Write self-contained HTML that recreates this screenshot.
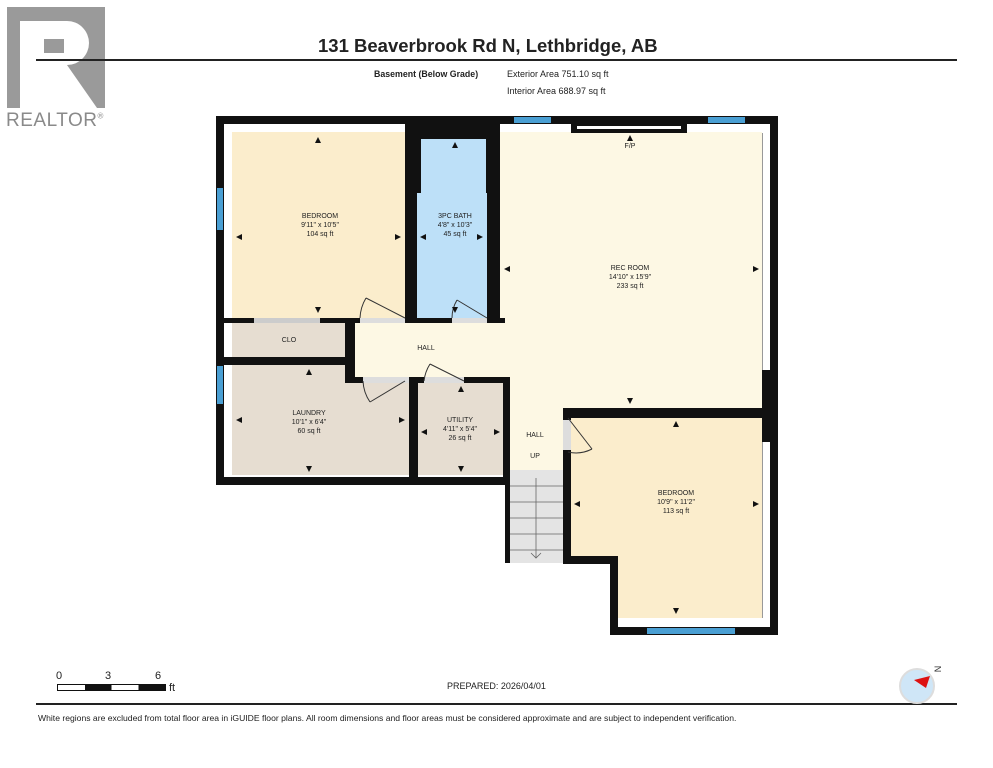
<!DOCTYPE html>
<html><head><meta charset="utf-8"><style>
body{margin:0;width:993px;height:768px;background:#fff;position:relative;overflow:hidden;font-family:"Liberation Sans",Arial,sans-serif;}
.a{position:absolute;}
.w{position:absolute;background:#111;}
.t{position:absolute;font-size:7px;color:#222;text-align:center;line-height:9px;transform:translateX(-50%);white-space:nowrap;}
.win{position:absolute;background:#4a9fd3;}
</style></head><body>
<!-- logo -->
<svg class="a" style="left:7px;top:7px" width="98" height="101">
<rect width="98" height="101" fill="#9a9a9a"/>
<path d="M13,14 H60 A22,22 0 0 1 60,58 H37 V101 H13 Z" fill="#fff"/>
<rect x="37" y="32" width="20" height="14" fill="#9a9a9a"/>
<polygon points="37,58 60,58 90,101 37,101" fill="#fff"/>
</svg>
<div class="a" style="left:6px;top:110px;font-size:19px;color:#8a8a8a;letter-spacing:0.5px;">REALTOR<sup style="font-size:8px">®</sup></div>
<!-- header -->
<div class="a" style="left:318px;top:35px;font-size:18.5px;font-weight:bold;color:#222;">131 Beaverbrook Rd N, Lethbridge, AB</div>
<div class="a" style="left:36px;top:59px;width:921px;height:2px;background:#222;"></div>
<div class="a" style="left:374px;top:69px;font-size:8.8px;font-weight:bold;color:#222;">Basement (Below Grade)</div>
<div class="a" style="left:507px;top:69px;font-size:9px;color:#222;">Exterior Area 751.10 sq ft</div>
<div class="a" style="left:507px;top:86px;font-size:9px;color:#222;">Interior Area 688.97 sq ft</div>

<!-- floors -->
<div class="a" style="left:224px;top:124px;width:546px;height:353px;background:#fff;"></div>
<div class="a" style="left:232px;top:132px;width:173px;height:186px;background:#fbedcc;"></div>
<div class="a" style="left:417px;top:193px;width:70px;height:125px;background:#bde0f8;"></div>
<div class="a" style="left:421px;top:139px;width:65px;height:60px;background:#bde0f8;"></div>
<div class="a" style="left:500px;top:132px;width:262px;height:276px;background:#fdf8e4;"></div>
<div class="a" style="left:232px;top:323px;width:113px;height:34px;background:#e6ddd1;"></div>
<div class="a" style="left:232px;top:365px;width:177px;height:110px;background:#e6ddd1;"></div>
<div class="a" style="left:355px;top:323px;width:150px;height:54px;background:#fdf8e4;"></div>
<div class="a" style="left:510px;top:370px;width:53px;height:100px;background:#fdf8e4;"></div>
<div class="a" style="left:418px;top:383px;width:85px;height:92px;background:#e6ddd1;"></div>
<div class="a" style="left:510px;top:470px;width:53px;height:93px;background:#e4e4e4;"></div>
<div class="a" style="left:571px;top:418px;width:191px;height:140px;background:#fbedcc;"></div>
<div class="a" style="left:618px;top:555px;width:144px;height:63px;background:#fbedcc;"></div>
<!-- stair lines -->
<svg class="a" style="left:510px;top:470px" width="53" height="93">
<g stroke="#666" stroke-width="0.8"><line x1="0" y1="16" x2="53" y2="16"/><line x1="0" y1="32" x2="53" y2="32"/><line x1="0" y1="48" x2="53" y2="48"/><line x1="0" y1="64" x2="53" y2="64"/><line x1="0" y1="80" x2="53" y2="80"/>
<line x1="26" y1="8" x2="26" y2="88"/><polyline points="21,83 26,88 31,83" fill="none"/></g></svg>

<!-- walls -->
<div class="w" style="left:216px;top:116px;width:562px;height:8px;"></div>
<div class="w" style="left:216px;top:116px;width:8px;height:369px;"></div>
<div class="w" style="left:216px;top:477px;width:294px;height:8px;"></div>
<div class="w" style="left:770px;top:116px;width:8px;height:519px;"></div>
<div class="w" style="left:610px;top:627px;width:168px;height:8px;"></div>
<div class="w" style="left:610px;top:556px;width:8px;height:79px;"></div>
<div class="w" style="left:563px;top:556px;width:55px;height:8px;"></div>
<div class="w" style="left:563px;top:408px;width:8px;height:156px;"></div>
<div class="w" style="left:505px;top:377px;width:5px;height:186px;"></div>
<div class="w" style="left:563px;top:408px;width:207px;height:10px;"></div>
<div class="w" style="left:762px;top:370px;width:8px;height:72px;"></div>
<div class="w" style="left:405px;top:116px;width:95px;height:23px;"></div>
<div class="w" style="left:405px;top:116px;width:12px;height:207px;"></div>
<div class="w" style="left:487px;top:116px;width:13px;height:207px;"></div>
<div class="w" style="left:405px;top:139px;width:16px;height:54px;"></div>
<div class="w" style="left:486px;top:139px;width:14px;height:54px;"></div>
<div class="w" style="left:224px;top:318px;width:281px;height:5px;"></div>
<div class="w" style="left:345px;top:318px;width:10px;height:64px;"></div>
<div class="w" style="left:224px;top:357px;width:121px;height:8px;"></div>
<div class="w" style="left:345px;top:377px;width:165px;height:6px;"></div>
<div class="w" style="left:409px;top:377px;width:9px;height:108px;"></div>
<div class="w" style="left:503px;top:377px;width:7px;height:108px;"></div>
<div class="w" style="left:571px;top:124px;width:116px;height:9px;"></div>
<div class="a" style="left:577px;top:126px;width:104px;height:3px;background:#fff;"></div>
<!-- door gaps -->
<div class="a" style="left:254px;top:318px;width:66px;height:5px;background:#ccc;"></div>
<div class="a" style="left:360px;top:318px;width:45px;height:5px;background:#ddd;"></div>
<div class="a" style="left:452px;top:318px;width:35px;height:5px;background:#ddd;"></div>
<div class="a" style="left:363px;top:377px;width:46px;height:6px;background:#ddd;"></div>
<div class="a" style="left:424px;top:377px;width:40px;height:6px;background:#ddd;"></div>
<div class="a" style="left:563px;top:420px;width:8px;height:30px;background:#ddd;"></div>
<!-- door swings -->
<svg class="a" style="left:0;top:0" width="993" height="768"><g stroke="#333" stroke-width="1" fill="none">
<line x1="405" y1="318" x2="366" y2="298"/><path d="M366,298 A42,42 0 0 0 360,318"/>
<line x1="487" y1="318" x2="457" y2="300"/><path d="M457,300 A35,35 0 0 0 452,318"/>
<line x1="405" y1="381" x2="370" y2="402"/><path d="M370,402 A40,40 0 0 1 363,381"/>
<line x1="464" y1="381" x2="430" y2="364"/><path d="M430,364 A40,40 0 0 0 424,381"/>
<line x1="568" y1="418" x2="592" y2="449"/><path d="M592,449 A35,35 0 0 1 568,452"/>
</g></svg>
<!-- windows -->
<div class="win" style="left:217px;top:188px;width:6px;height:42px;"></div>
<div class="win" style="left:217px;top:366px;width:6px;height:38px;"></div>
<div class="win" style="left:514px;top:117px;width:37px;height:6px;"></div>
<div class="win" style="left:708px;top:117px;width:37px;height:6px;"></div>
<div class="win" style="left:647px;top:628px;width:88px;height:6px;"></div>
<div class="a" style="left:762px;top:133px;width:1px;height:237px;background:#999;"></div>
<div class="a" style="left:762px;top:442px;width:1px;height:176px;background:#999;"></div>

<!-- labels -->
<div class="t" style="left:320px;top:212px;">BEDROOM<br>9'11" x 10'5"<br>104 sq ft</div>
<div class="t" style="left:455px;top:212px;">3PC BATH<br>4'8" x 10'3"<br>45 sq ft</div>
<div class="t" style="left:630px;top:264px;">REC ROOM<br>14'10" x 15'9"<br>233 sq ft</div>
<div class="t" style="left:630px;top:142px;">F/P</div>
<div class="t" style="left:289px;top:336px;">CLO</div>
<div class="t" style="left:426px;top:344px;">HALL</div>
<div class="t" style="left:309px;top:409px;">LAUNDRY<br>10'1" x 6'4"<br>60 sq ft</div>
<div class="t" style="left:460px;top:416px;">UTILITY<br>4'11" x 5'4"<br>26 sq ft</div>
<div class="t" style="left:535px;top:431px;">HALL</div>
<div class="t" style="left:535px;top:452px;">UP</div>
<div class="t" style="left:676px;top:489px;">BEDROOM<br>10'9" x 11'2"<br>113 sq ft</div>
<!-- dimension arrows -->
<svg class="a" style="left:0;top:0" width="993" height="768"><g fill="#111">
<polygon points="318,137 321,143 315,143"/><polygon points="318,313 321,307 315,307"/>
<polygon points="236,237 242,234 242,240"/><polygon points="401,237 395,234 395,240"/>
<polygon points="455,142 458,148 452,148"/><polygon points="455,313 458,307 452,307"/>
<polygon points="420,237 426,234 426,240"/><polygon points="483,237 477,234 477,240"/>
<polygon points="630,135 633,141 627,141"/><polygon points="630,404 633,398 627,398"/>
<polygon points="504,269 510,266 510,272"/><polygon points="759,269 753,266 753,272"/>
<polygon points="309,369 312,375 306,375"/><polygon points="309,472 312,466 306,466"/>
<polygon points="236,420 242,417 242,423"/><polygon points="405,420 399,417 399,423"/>
<polygon points="461,386 464,392 458,392"/><polygon points="461,472 464,466 458,466"/>
<polygon points="421,432 427,429 427,435"/><polygon points="500,432 494,429 494,435"/>
<polygon points="676,421 679,427 673,427"/><polygon points="676,614 679,608 673,608"/>
<polygon points="574,504 580,501 580,507"/><polygon points="759,504 753,501 753,507"/>
</g></svg>

<!-- footer -->
<div class="a" style="left:56px;top:670px;font-size:11px;color:#222;">0</div>
<div class="a" style="left:105px;top:670px;font-size:11px;color:#222;">3</div>
<div class="a" style="left:155px;top:670px;font-size:11px;color:#222;">6</div>
<div class="a" style="left:57px;top:684px;width:107px;height:5px;border:1px solid #111;background:linear-gradient(90deg,#fff 0 25%,#111 25% 50%,#fff 50% 75%,#111 75% 100%);"></div>
<div class="a" style="left:169px;top:682px;font-size:11px;color:#222;">ft</div>
<div class="a" style="left:447px;top:681px;font-size:9px;color:#222;">PREPARED: 2026/04/01</div>
<div class="a" style="left:36px;top:703px;width:921px;height:2px;background:#222;"></div>
<div class="a" style="left:38px;top:713px;font-size:8.6px;color:#222;">White regions are excluded from total floor area in iGUIDE floor plans. All room dimensions and floor areas must be considered approximate and are subject to independent verification.</div>
<div class="a" style="left:899px;top:668px;width:32px;height:32px;border-radius:50%;border:2px solid #ddd;background:#cfe6f7;"></div>
<svg class="a" style="left:908px;top:672px" width="30" height="20"><polygon points="6,8 22,4 18,16" fill="#d11"/></svg>
<div class="a" style="left:934px;top:664px;font-size:9px;color:#333;transform:rotate(90deg);">N</div>
</body></html>
